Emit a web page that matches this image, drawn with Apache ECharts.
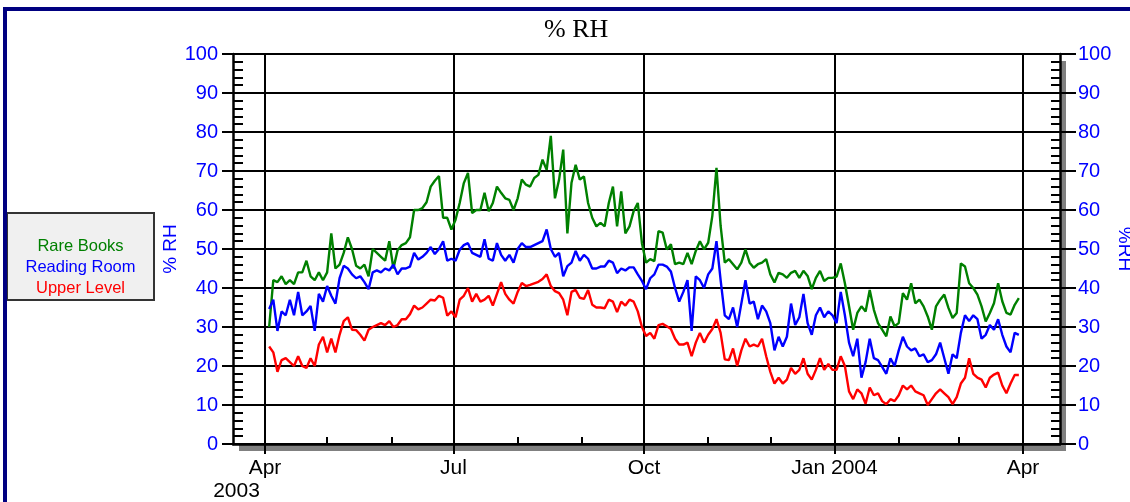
<!DOCTYPE html>
<html><head><meta charset="utf-8">
<script src="https://cdn.jsdelivr.net/npm/echarts@6/dist/echarts.min.js"></script>
<style>html,body{margin:0;padding:0;background:#fff}#c{width:1130px;height:502px}</style>
</head><body><div id="c"></div>
<script>
const seriesNames = ['Rare Books', 'Reading Room', 'Upper Level'];
const seriesColors = ['#008000', '#0000ff', '#ff0000'];
const firstDate = '2003-04-03';
const stepDays = 2;
const rareBooks = [
30,42,41.5,43,41,42,41,44,44,47,
43,42,44,42,44,54,45,46,49,53,
50,45.7,45,46,43,50,49,48,47,52,
45,49.7,51,51.5,53,60,60,60.5,62,66,
67.5,68.7,58,58,55,57.5,61.8,66.9,69.5,59.2,
60,60,64.4,59.7,61.8,66,64.4,63,62.6,60,
63,67.8,66.5,66,68.2,69,72.9,70.3,79,63,
67.8,75.5,54,67,71.6,67.8,68.6,61.8,58,55.8,
56.7,55.8,61.8,66,55.8,64.8,54,55.8,59.7,61.8,
51.5,46.5,47.4,46.9,54.6,54.2,49.9,51.2,46.1,46.5,
46.1,49,46.1,49.5,52,49.9,51.6,58.5,70.8,55.9,
46.5,47.4,46.1,44.8,46.5,49.9,46.5,45.2,46.1,46.5,
47.4,43.5,41.4,43.9,43.5,42.6,43.9,44.4,42.6,44.4,
43.1,39.7,42.6,44.4,41.8,42.6,42.6,42.9,46.3,41.2,
35.3,29.3,33.6,35.3,34,39.5,34.4,31,29.3,27.6,
32.7,30.2,31,38.7,37,41.2,36.1,37,35.3,32.7,
29.3,35.3,37,38.3,34.9,32.3,33.6,46.3,45.5,41.2,
40,38.3,35.3,31.4,33.6,36.1,41.2,36.6,33.6,33.2,
35.7,37.4];
const readingRoom = [
34.6,37,29,34,33,37,33,39,33,34,
35.4,29,38.5,36.5,40.5,38,36,42.5,45.7,45,
43.5,42.5,43,41.5,39.7,44,44.5,44,45,44.5,
46,43.5,45,45,45.5,49,47.3,48,49,50.5,
48.7,50,52,47,47.5,47,49.8,51,51.5,49,
48.5,48,52.5,47.5,47,51.5,48.5,47,48.5,46.5,
50,51.5,50.5,50.5,51,51.5,52,55,50,48,
49,43,45.6,46.5,49.5,47,48.5,47.5,45,45,
45.5,45.5,47,46.5,43.8,45,44.5,45.3,45.3,43.5,
41.8,39.7,42.5,43.5,46,46,45.5,44.2,40,36.5,
39,42,29,43,42,40,43.5,45,52,42,
33,32,35,30,36,42,36,36.5,32,35.5,
34,31,24,27.5,25,27.5,36,30.5,32.5,38.5,
31,28,33,35,32.5,34,33,31,39,33,
26,22.5,27,17,21,27,22,21.5,19.8,18,
22,20,24,27.5,25,24,24.5,22.5,23,21,
21.5,23,26,22,18,23,22,28.5,33,31.5,
33,32,27,28,30.5,29.3,32,28,25,23.5,
28.5,28];
const upperLevel = [
25,23.5,18.5,21.5,22,21,20,22.5,20,19.5,
22,20,25.5,27.5,23.5,27,23.5,28,31.5,32.5,
29.3,29.2,28,26.5,29.3,30,30.5,31,30.5,31.5,
30,30.5,32,32,33.3,35.5,34.5,35,36,37,
36.8,38,37.5,32.9,34,32.5,37,38,40,36.5,
38.5,36.5,37,38,35.5,38.5,41.5,38.5,37,36,
39,41.3,40.5,40.8,41.2,41.6,42.3,43.5,40.5,39.2,
38.7,37,33,39,39.5,37.5,37.2,39.5,35.7,35,
35,34.8,37,36.5,33.8,36.5,35.5,37,36.5,34,
30,27.7,28.5,27,30.5,30.8,30.2,29.5,27,25.5,
25.5,26,22.5,26,28.5,26,28,29.5,32,28.5,
21.7,21.5,24.5,20,24,27,25,25.5,25,27,
22.5,18.5,15.5,17,15.5,16.5,19.5,18,19,22,
18,16.5,19,22,19,20.5,19,19,22.5,20,
13.5,11.5,14,13,10.3,14.5,12.5,13,11,10.2,
11.5,11,12.5,15,14,15,13.5,13,12.5,10,
11.5,13,14,13,12,10.2,12,15.5,17,22,
18,17,16.5,14.5,17,17.8,18.3,15,13,15.5,
17.7,17.7];
const axisStart = '2003-03-16T13:00';
const axisEnd = '2004-04-18T21:00';
const monthTicks = ['2003-04-01','2003-05-01','2003-06-01','2003-07-01','2003-08-01','2003-09-01','2003-10-01','2003-11-01','2003-12-01','2004-01-01','2004-02-01','2004-03-01','2004-04-01'];
const quarterTicks = ['2003-04-01','2003-07-01','2003-10-01','2004-01-01','2004-04-01'];
const quarterLabels = ['Apr','Jul','Oct','Jan 2004','Apr'];
const firstYearLabel = '2003';

function ts(s) {
  const [d, t] = s.split('T');
  const [y, m, dd] = d.split('-').map(Number);
  let hh = 0, mm = 0;
  if (t) { [hh, mm] = t.split(':').map(Number); }
  return Date.UTC(y, m - 1, dd, hh, mm);
}
const DAY = 86400000;
const t0 = ts(firstDate);
function pairs(vals) { return vals.map((v, i) => [t0 + i * stepDays * DAY, v]); }
const allValues = [rareBooks, readingRoom, upperLevel];
const qTs = quarterTicks.map(ts);
const mTs = monthTicks.map(ts);
const FONT = 'Liberation Sans';

const chart = echarts.init(document.getElementById('c'), null, {renderer: 'canvas'});
const option = {
  animation: false,
  backgroundColor: '#fff',
  title: {
    text: '% RH', left: 539, top: 12,
    textStyle: {fontFamily: 'Liberation Serif', fontSize: 26, fontWeight: 'normal', color: '#000'}
  },
  graphic: [{
    type: 'rect', silent: true, z: 100,
    shape: {x: 5, y: 9, width: 1300, height: 700},
    style: {fill: 'none', stroke: '#000080', lineWidth: 4}
  }],
  legend: {
    data: seriesNames, left: 7, top: 213, orient: 'vertical',
    icon: 'none', itemWidth: 0, itemHeight: 21, itemGap: 2,
    padding: [23, 8, 3, 3],
    backgroundColor: '#f0f0f0', borderColor: '#333', borderWidth: 2,
    selectedMode: false,
    formatter: name => '{s' + seriesNames.indexOf(name) + '|' + name + '}',
    textStyle: {
      rich: Object.fromEntries(seriesNames.map((n, i) => ['s' + i, {
        color: seriesColors[i], fontSize: 16.5, fontFamily: FONT, width: 131, align: 'center', lineHeight: 21
      }]))
    }
  },
  grid: {
    left: 233, right: 70, top: 54, bottom: 58,
    outerBoundsMode: 'none', containLabel: false,
    show: true, backgroundColor: '#fff', borderWidth: 0,
    shadowColor: '#808080', shadowOffsetX: 6, shadowOffsetY: 7, shadowBlur: 0
  },
  xAxis: [{
    type: 'value', min: ts(axisStart), max: ts(axisEnd), position: 'bottom', scale: true,
    axisLine: {show: true, onZero: false, lineStyle: {color: '#000', width: 2.5}},
    axisTick: {show: true, inside: true, length: 7, customValues: mTs, lineStyle: {color: '#000', width: 2}},
    axisLabel: {
      show: true, customValues: qTs, margin: 13, color: '#000', fontFamily: FONT, fontSize: 21,
      showMinLabel: true, showMaxLabel: true, hideOverlap: false,
      formatter: (v) => {
        const i = qTs.indexOf(v);
        if (i < 0) return '';
        if (i === 0) return '{a|' + quarterLabels[i] + '}\n{b|' + firstYearLabel + '}';
        return '{a|' + quarterLabels[i] + '}';
      },
      rich: {
        a: {fontFamily: FONT, fontSize: 21, color: '#000', lineHeight: 23},
        b: {fontFamily: FONT, fontSize: 21, color: '#000', lineHeight: 23, padding: [0, 57, 0, 0]}
      }
    },
    splitLine: {show: false}
  }, {
    type: 'value', min: ts(axisStart), max: ts(axisEnd), position: 'bottom', scale: true,
    axisLine: {show: false, onZero: false},
    axisTick: {show: true, inside: false, length: 10, customValues: qTs, lineStyle: {color: '#000', width: 2}},
    axisLabel: {show: false},
    splitLine: {show: false}
  }],
  yAxis: [{
    type: 'value', min: 0, max: 100, interval: 10, position: 'left',
    axisLine: {show: true, lineStyle: {color: '#000', width: 2.5}},
    axisTick: {show: true, inside: false, length: 11, lineStyle: {color: '#000', width: 2}},
    axisLabel: {color: '#0000ff', fontSize: 20, fontFamily: FONT, margin: 15},
    splitLine: {show: true, lineStyle: {color: '#000', width: 2}},
    name: '% RH', nameLocation: 'middle', nameGap: 62, nameMoveOverlap: false,
    nameTextStyle: {color: '#0000ff', fontSize: 19, fontFamily: FONT, align: 'center', verticalAlign: 'middle'}
  }, {
    type: 'value', min: 0, max: 100, interval: 10, position: 'right',
    axisLine: {show: true, lineStyle: {color: '#000', width: 2.5}},
    axisTick: {show: true, inside: false, length: 16, lineStyle: {color: '#000', width: 2}},
    axisLabel: {color: '#0000ff', fontSize: 20, fontFamily: FONT, margin: 18},
    splitLine: {show: false},
    name: '%RH', nameLocation: 'middle', nameGap: 64, nameRotate: -90, nameMoveOverlap: false,
    nameTextStyle: {color: '#0000ff', fontSize: 19, fontFamily: FONT, align: 'center', verticalAlign: 'middle'}
  }, {
    type: 'value', min: 0, max: 100, interval: 10, position: 'left',
    axisLine: {show: false}, axisLabel: {show: false}, splitLine: {show: false},
    axisTick: {show: false, inside: true},
    minorTick: {show: true, splitNumber: 5, length: 10, lineStyle: {color: '#000', width: 2}}
  }, {
    type: 'value', min: 0, max: 100, interval: 10, position: 'right',
    axisLine: {show: false}, axisLabel: {show: false}, splitLine: {show: false},
    axisTick: {show: false, inside: true},
    minorTick: {show: true, splitNumber: 5, length: 9, lineStyle: {color: '#000', width: 2}}
  }],
  series: [{
    type: 'line', name: '_quarters', data: [], silent: true, z: 1,
    markLine: {
      silent: true, symbol: ['none', 'none'], z: 1, animation: false,
      label: {show: false},
      lineStyle: {color: '#000', width: 2, type: 'solid'},
      data: qTs.map(t => ({xAxis: t}))
    }
  }].concat(seriesNames.map((n, i) => ({
    type: 'line', name: n, data: pairs(allValues[i]), xAxisIndex: 0, yAxisIndex: 0,
    showSymbol: false, symbol: 'none', z: 3,
    lineStyle: {color: seriesColors[i], width: 2.4},
    itemStyle: {color: seriesColors[i]}
  })))
};
chart.setOption(option);
</script></body></html>
